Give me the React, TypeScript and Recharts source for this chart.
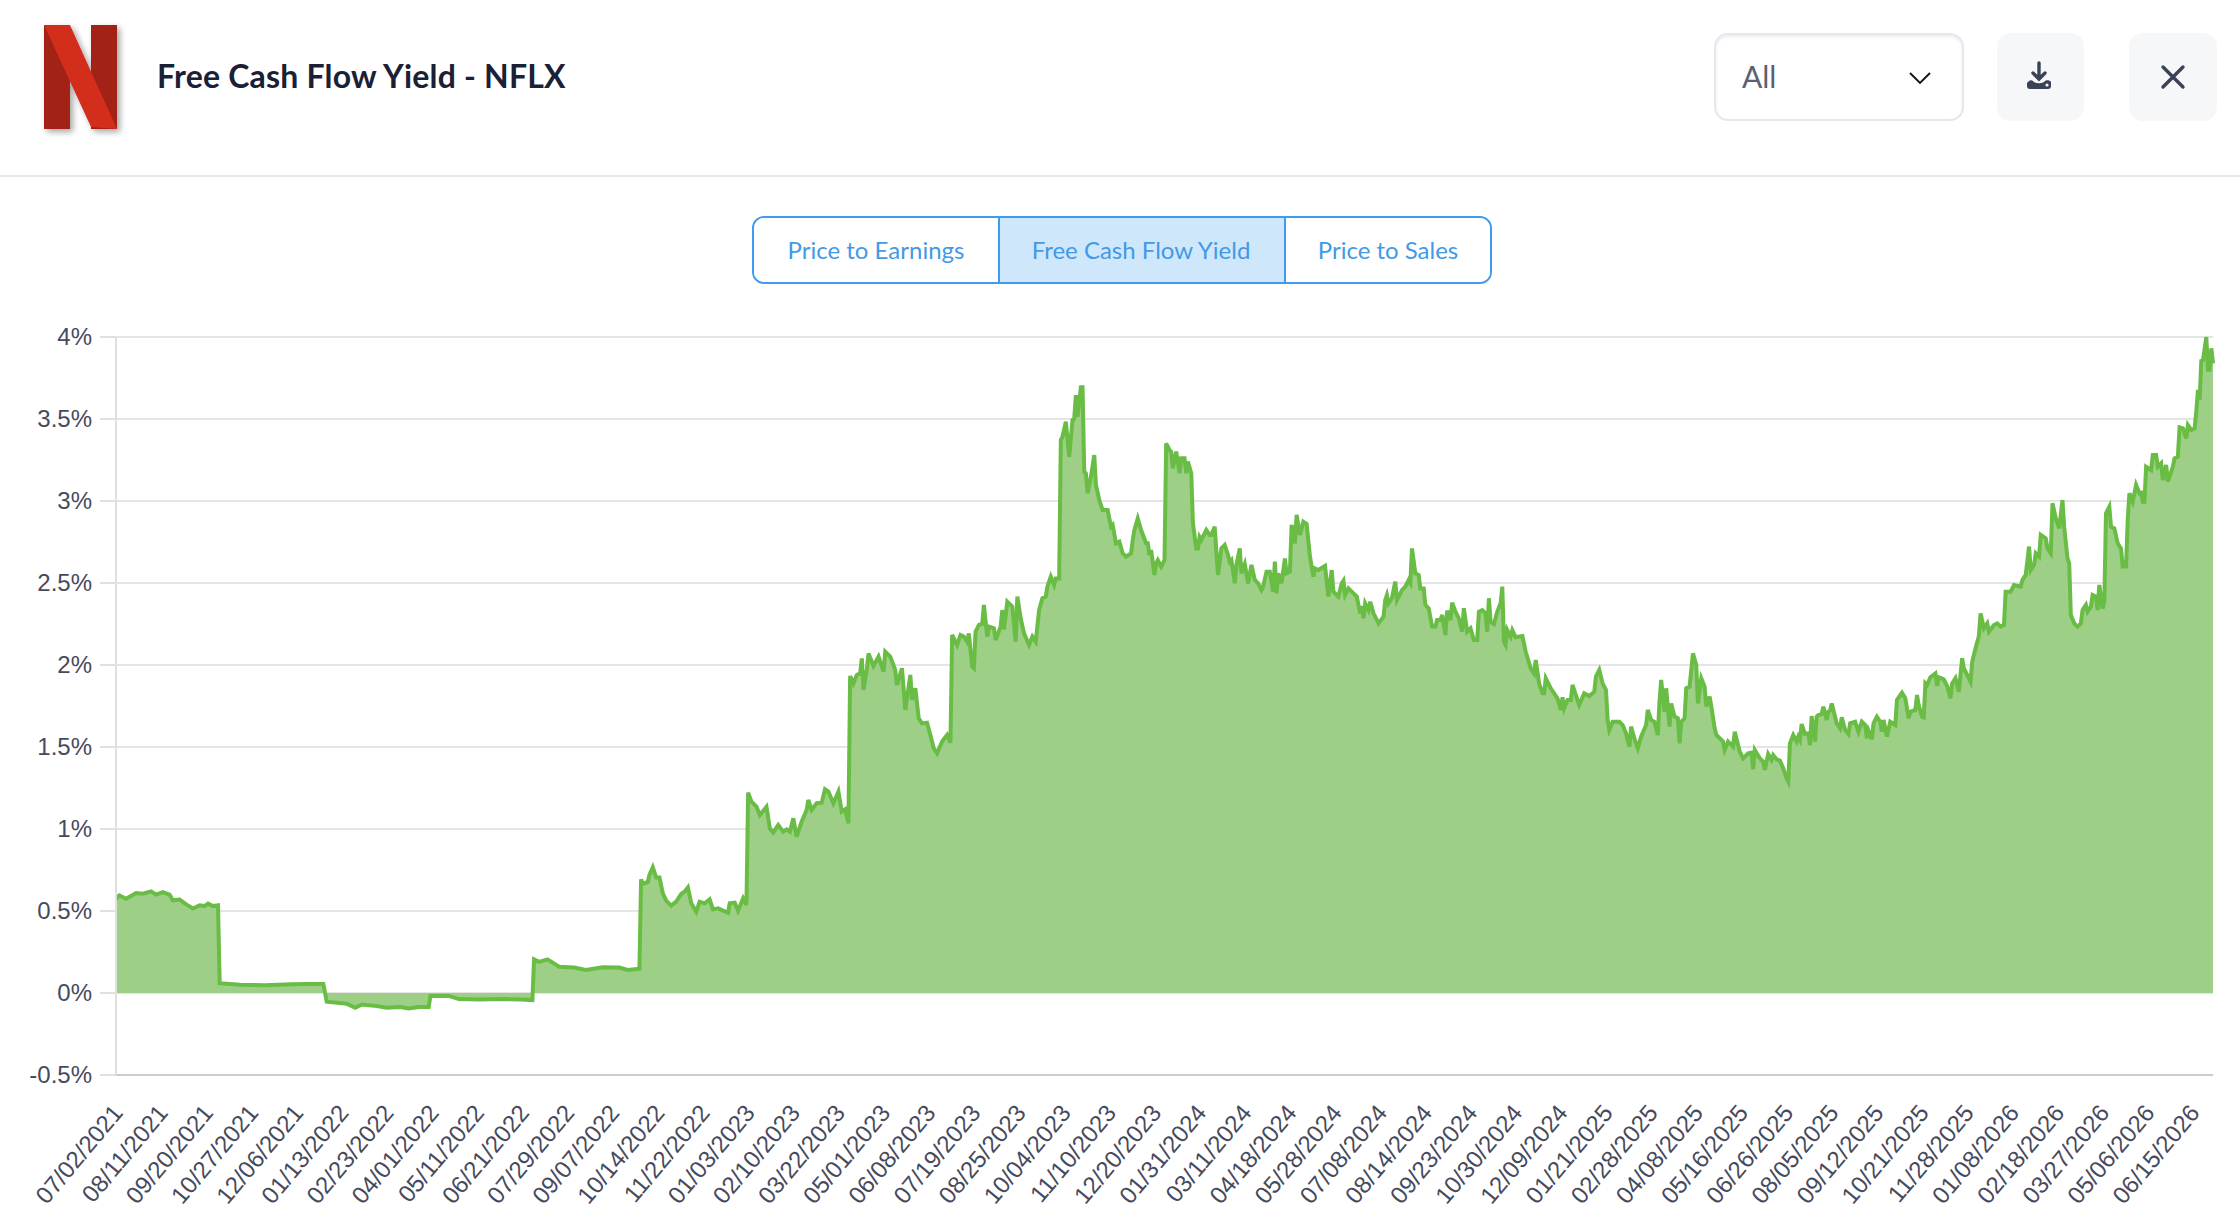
import { AreaChart, Area, XAxis, YAxis, CartesianGrid } from "recharts"

// x tick labels, one every 27 trading days
const dateLabels = [
  "07/02/2021", "08/11/2021", "09/20/2021", "10/27/2021", "12/06/2021",
  "01/13/2022", "02/23/2022", "04/01/2022", "05/11/2022", "06/21/2022", "07/29/2022", "09/07/2022", "10/14/2022", "11/22/2022",
  "01/03/2023", "02/10/2023", "03/22/2023", "05/01/2023", "06/08/2023", "07/19/2023", "08/25/2023", "10/04/2023", "11/10/2023", "12/20/2023",
  "01/31/2024", "03/11/2024", "04/18/2024", "05/28/2024", "07/08/2024", "08/14/2024", "09/23/2024", "10/30/2024", "12/09/2024",
  "01/21/2025", "02/28/2025", "04/08/2025", "05/16/2025", "06/26/2025", "08/05/2025", "09/12/2025", "10/21/2025", "11/28/2025",
  "01/08/2026", "02/18/2026", "03/27/2026", "05/06/2026", "06/15/2026",
]
const daysPerLabel = 27
const lastDay = 1254
const yTicks = [-0.5, 0, 0.5, 1, 1.5, 2, 2.5, 3, 3.5, 4]
const tabs = ["Price to Earnings", "Free Cash Flow Yield", "Price to Sales"]

// [trading day since 07/02/2021, yield %]
const yield2021: number[][] = [
  [0, 0.575], [2, 0.595], [6, 0.575], [12, 0.61], [16, 0.605], [21, 0.62], [24, 0.6], [28, 0.615], [32, 0.6], [34, 0.565],
  [38, 0.57], [42, 0.54], [46, 0.515], [50, 0.535], [53, 0.53], [55, 0.545], [58, 0.53], [61, 0.535], [62, 0.06], [74, 0.05],
  [89, 0.047], [105, 0.053], [114, 0.055], [124, 0.055],
]
const yield2022: number[][] = [
  [126, -0.053], [138, -0.065], [143, -0.09], [147, -0.07], [156, -0.08], [162, -0.09], [170, -0.085], [175, -0.095], [181, -0.085],
  [187, -0.085], [188, -0.018], [199, -0.018], [205, -0.037], [217, -0.04], [233, -0.037], [242, -0.04], [249, -0.043], [250, 0.205],
  [253, 0.19], [258, 0.205], [265, 0.16], [274, 0.155], [281, 0.14], [291, 0.157], [301, 0.155], [306, 0.14], [313, 0.148], [314, 0.693],
  [315, 0.665], [318, 0.677], [319, 0.72], [321, 0.766], [323, 0.705], [325, 0.705], [327, 0.608], [329, 0.563], [332, 0.533], [335, 0.557],
  [338, 0.604], [340, 0.618], [342, 0.644], [344, 0.547], [347, 0.496], [349, 0.557], [352, 0.547], [355, 0.571], [357, 0.51], [360, 0.516],
  [363, 0.502], [366, 0.49], [367, 0.547], [370, 0.551], [372, 0.502], [375, 0.577], [377, 0.537],
]
const yield2023: number[][] = [
  [378, 1.222], [380, 1.167], [383, 1.136], [385, 1.085], [389, 1.136], [391, 1.004], [393, 0.978], [396, 1.024], [399, 0.984], [401, 0.998],
  [403, 0.984], [405, 1.065], [407, 0.953], [410, 1.045], [413, 1.116], [414, 1.177], [416, 1.116], [419, 1.157], [422, 1.16], [424, 1.242],
  [426, 1.228], [429, 1.157], [432, 1.228], [434, 1.106], [436, 1.12], [438, 1.035], [439, 1.933], [441, 1.888], [443, 1.939], [445, 1.949],
  [446, 2.04], [447, 1.848], [449, 1.974], [450, 2.07], [452, 2.02], [453, 1.994], [456, 2.051], [459, 1.959], [460, 2.081], [463, 2.051],
  [466, 1.97], [467, 1.878], [470, 1.98], [472, 1.726], [475, 1.939], [476, 1.787], [478, 1.858], [480, 1.675], [482, 1.644], [485, 1.648],
  [487, 1.573], [489, 1.492], [491, 1.461], [494, 1.533], [497, 1.573], [499, 1.526], [500, 2.183], [503, 2.122], [505, 2.183], [507, 2.173],
  [509, 2.142], [510, 2.193], [512, 1.99], [513, 1.98], [514, 2.203], [516, 2.244], [518, 2.25], [519, 2.366], [521, 2.173], [522, 2.234],
  [525, 2.224], [526, 2.152], [529, 2.234], [530, 2.335], [531, 2.217], [533, 2.386], [536, 2.356], [538, 2.142], [539, 2.417], [541, 2.285],
  [543, 2.193], [546, 2.122], [548, 2.173], [550, 2.142], [552, 2.335], [554, 2.407], [556, 2.417], [557, 2.478], [559, 2.539], [561, 2.488],
  [562, 2.528], [564, 2.528], [565, 3.372], [566, 3.392], [568, 3.484], [570, 3.27], [572, 3.494], [573, 3.5], [574, 3.646], [575, 3.514],
  [577, 3.693], [578, 3.693], [579, 3.179], [580, 3.169], [581, 3.047], [583, 3.148], [585, 3.28], [586, 3.098], [588, 3.006], [590, 2.945],
  [593, 2.945], [595, 2.843], [596, 2.854], [598, 2.742], [600, 2.752], [602, 2.681], [604, 2.66], [607, 2.681], [608, 2.762], [609, 2.823],
  [611, 2.894], [613, 2.823], [616, 2.742], [617, 2.742], [618, 2.671], [619, 2.701], [621, 2.549], [622, 2.62], [623, 2.64], [625, 2.6],
  [627, 2.64],
]
const yield2024: number[][] = [
  [628, 3.352], [630, 3.311], [631, 3.3], [632, 3.199], [634, 3.301], [636, 3.169], [637, 3.26], [639, 3.26], [640, 3.169], [641, 3.24],
  [643, 3.169], [644, 2.864], [646, 2.711], [647, 2.711], [648, 2.78], [649, 2.762], [652, 2.823], [654, 2.793], [655, 2.793], [657, 2.843],
  [659, 2.549], [661, 2.711], [663, 2.732], [665, 2.671], [666, 2.63], [667, 2.64], [669, 2.498], [670, 2.61], [672, 2.711], [673, 2.559],
  [675, 2.616], [677, 2.498], [679, 2.61], [681, 2.518], [683, 2.498], [685, 2.457], [686, 2.478], [688, 2.569], [690, 2.569], [692, 2.447],
  [693, 2.63], [694, 2.437], [695, 2.559], [697, 2.498], [699, 2.65], [700, 2.559], [702, 2.569], [703, 2.854], [705, 2.742], [706, 2.915],
  [708, 2.793], [710, 2.874], [712, 2.86], [714, 2.661], [716, 2.539], [717, 2.589], [719, 2.579], [723, 2.604], [725, 2.417], [727, 2.579],
  [728, 2.447], [731, 2.417], [733, 2.498], [734, 2.514], [735, 2.427], [737, 2.467], [740, 2.437], [742, 2.417], [744, 2.315], [745, 2.36],
  [746, 2.285], [747, 2.376], [749, 2.335], [750, 2.386], [752, 2.315], [755, 2.254], [758, 2.295], [759, 2.396], [760, 2.427], [761, 2.376],
  [763, 2.407], [765, 2.508], [766, 2.396], [769, 2.457], [771, 2.478], [773, 2.518], [774, 2.5], [775, 2.711], [777, 2.559], [779, 2.549],
  [780, 2.467], [782, 2.467], [783, 2.366], [785, 2.345], [787, 2.234], [789, 2.234], [790, 2.274], [792, 2.274], [793, 2.305], [795, 2.183],
  [796, 2.331], [798, 2.274], [799, 2.38], [801, 2.325], [803, 2.284], [805, 2.203], [806, 2.346], [808, 2.203], [810, 2.224], [812, 2.152],
  [814, 2.152], [815, 2.325], [817, 2.335], [819, 2.315], [820, 2.203], [821, 2.407], [822, 2.264], [824, 2.25], [826, 2.325], [828, 2.376],
  [829, 2.478], [830, 2.142], [831, 2.122], [832, 2.213], [834, 2.173], [835, 2.213], [837, 2.169], [841, 2.177], [843, 2.081], [846, 1.98],
  [848, 1.949], [849, 2.03], [851, 1.888], [853, 1.827], [854, 1.827], [855, 1.919], [858, 1.858], [862, 1.797], [864, 1.726], [865, 1.803],
  [866, 1.736], [868, 1.787], [870, 1.787], [871, 1.878], [873, 1.817], [875, 1.756],
]
const yield2025: number[][] = [
  [878, 1.827], [881, 1.811], [884, 1.837], [885, 1.929], [887, 1.97], [889, 1.888], [891, 1.848], [892, 1.665], [893, 1.604], [895, 1.654],
  [899, 1.654], [901, 1.634], [903, 1.583], [905, 1.502], [906, 1.624], [908, 1.553], [910, 1.492], [912, 1.563], [915, 1.634], [916, 1.726],
  [918, 1.665], [920, 1.654], [922, 1.573], [923, 1.776], [924, 1.909], [926, 1.715], [927, 1.858], [929, 1.624], [930, 1.766], [932, 1.685],
  [934, 1.675], [935, 1.522], [936, 1.654], [938, 1.675], [939, 1.858], [941, 1.868], [943, 2.071], [945, 2.0], [946, 1.766], [948, 1.919],
  [950, 1.868], [951, 1.746], [953, 1.807], [954, 1.746], [956, 1.614], [957, 1.573], [961, 1.533], [962, 1.482], [964, 1.533], [967, 1.502],
  [968, 1.593], [971, 1.472], [973, 1.431], [976, 1.461], [978, 1.465], [979, 1.364], [980, 1.482], [983, 1.431], [985, 1.411], [986, 1.36],
  [988, 1.457], [990, 1.421], [991, 1.451], [993, 1.425], [995, 1.417], [997, 1.37], [999, 1.309], [1000, 1.289], [1001, 1.522], [1003, 1.573],
  [1005, 1.533], [1006, 1.563], [1007, 1.543], [1008, 1.64], [1010, 1.579], [1012, 1.583], [1013, 1.512], [1014, 1.689], [1016, 1.533], [1017, 1.685],
  [1018, 1.695], [1020, 1.7], [1021, 1.746], [1023, 1.665], [1024, 1.715], [1025, 1.722], [1026, 1.766], [1029, 1.644], [1031, 1.614], [1032, 1.681],
  [1034, 1.604], [1036, 1.579], [1037, 1.644], [1040, 1.654], [1042, 1.593], [1044, 1.654], [1046, 1.634], [1047, 1.553], [1048, 1.6], [1050, 1.547],
  [1051, 1.644], [1053, 1.685], [1055, 1.654], [1056, 1.593], [1057, 1.665], [1059, 1.563], [1061, 1.654], [1064, 1.634], [1065, 1.787], [1068, 1.831],
  [1070, 1.797], [1072, 1.675], [1073, 1.715], [1076, 1.726], [1077, 1.817], [1078, 1.756], [1080, 1.685], [1081, 1.681], [1082, 1.888], [1083, 1.878],
  [1085, 1.925], [1088, 1.949], [1089, 1.872], [1090, 1.925], [1093, 1.913], [1095, 1.872], [1097, 1.797], [1098, 1.888], [1100, 1.919], [1102, 1.837],
  [1104, 2.041], [1105, 1.98], [1107, 1.94], [1109, 1.898], [1110, 2.02], [1112, 2.102],
]
const yield2026: number[][] = [
  [1114, 2.177], [1115, 2.315], [1117, 2.224], [1119, 2.254], [1120, 2.203], [1123, 2.244], [1125, 2.254], [1127, 2.234], [1129, 2.244], [1130, 2.447],
  [1133, 2.447], [1135, 2.488], [1139, 2.478], [1140, 2.518], [1142, 2.549], [1144, 2.722], [1145, 2.579], [1147, 2.61], [1148, 2.681], [1150, 2.661],
  [1151, 2.793], [1154, 2.772], [1155, 2.711], [1157, 2.681], [1158, 2.986], [1160, 2.894], [1162, 2.833], [1164, 3.006], [1165, 2.843], [1167, 2.65],
  [1168, 2.62], [1169, 2.305], [1171, 2.254], [1173, 2.234], [1175, 2.254], [1176, 2.335], [1178, 2.366], [1179, 2.325], [1181, 2.356], [1182, 2.427],
  [1184, 2.417], [1185, 2.335], [1186, 2.488], [1188, 2.345], [1189, 2.386], [1190, 2.925], [1192, 2.965], [1193, 2.843], [1195, 2.833], [1197, 2.742],
  [1199, 2.711], [1200, 2.6], [1202, 2.6], [1203, 2.884], [1204, 3.047], [1206, 2.996], [1208, 3.098], [1210, 3.047], [1211, 3.05], [1212, 2.996],
  [1213, 2.996], [1214, 3.209], [1217, 3.189], [1218, 3.28], [1220, 3.28], [1221, 3.209], [1223, 3.23], [1224, 3.128], [1226, 3.22], [1227, 3.118],
  [1230, 3.209], [1231, 3.26], [1233, 3.27], [1234, 3.449], [1236, 3.443], [1238, 3.382], [1239, 3.463], [1241, 3.433], [1243, 3.443], [1244, 3.545],
  [1245, 3.677], [1246, 3.616], [1247, 3.854], [1248, 3.858], [1250, 4], [1251, 3.8], [1252, 3.8], [1253, 3.931], [1254, 3.839],
]

const chartData = [...yield2021, ...yield2022, ...yield2023, ...yield2024, ...yield2025, ...yield2026].map(([day, value]) => ({ day, value }))
const xTicks = dateLabels.map((_, i) => i * daysPerLabel)

const lato = "Lato, sans-serif"
const axisFont = "'Liberation Sans', sans-serif"
const axisColor = "#474a5c"

function DateTick({ x, y, payload }: any) {
  return (
    <text
      transform={`translate(${x + 1.5},${y + 25}) rotate(-50)`}
      textAnchor="end"
      dominantBaseline="central"
      fontFamily={axisFont}
      fontSize={24}
      fill={axisColor}
    >
      {dateLabels[payload.value / daysPerLabel]}
    </text>
  )
}

function PercentTick({ x, y, payload }: any) {
  return (
    <text x={x} y={y - 1} textAnchor="end" dominantBaseline="central" fontFamily={axisFont} fontSize={24} fill={axisColor}>
      {`${payload.value}%`}
    </text>
  )
}

function Logo() {
  return (
    <svg width="100" height="130" style={{ position: "absolute", left: 34, top: 15 }}>
      <defs>
        <filter id="logoShadow" x="-20%" y="-20%" width="140%" height="140%">
          <feDropShadow dx="3" dy="3" stdDeviation="3" floodColor="#000" floodOpacity="0.35" />
        </filter>
      </defs>
      <g filter="url(#logoShadow)">
        <rect x="10" y="10" width="26" height="104" fill="#a32013" />
        <rect x="57" y="10" width="26" height="104" fill="#a32013" />
        <polygon points="10,10 36,10 83,114 57,112" fill="#d32e1f" />
      </g>
    </svg>
  )
}

function Header() {
  return (
    <>
      <Logo />
      <div style={{ position: "absolute", left: 157, top: 56, fontFamily: lato, fontWeight: 700, fontSize: 32, letterSpacing: 0.2, lineHeight: "40px", color: "#1a2036", whiteSpace: "nowrap" }}>
        Free Cash Flow Yield - NFLX
      </div>
      <div style={{ position: "absolute", left: 0, top: 175, width: 2240, height: 2, background: "#e9e9ed" }} />
      <div style={{ position: "absolute", left: 1714, top: 33, width: 246, height: 84, border: "2px solid #e6e6ee", borderRadius: 14, boxShadow: "inset 0 2px 3px #ececf2" }}>
        <div style={{ position: "absolute", left: 26, top: 22, fontFamily: lato, fontSize: 30, lineHeight: "38px", color: "#5c5f74" }}>All</div>
        <svg width="24" height="14" style={{ position: "absolute", left: 192, top: 36 }}>
          <path d="M2 2 L12 12 L22 2" fill="none" stroke="#111" strokeWidth="1.8" />
        </svg>
      </div>
      <div style={{ position: "absolute", left: 1997, top: 33, width: 87, height: 88, borderRadius: 14, background: "#f6f7f9" }}>
        <svg width="30" height="30" style={{ position: "absolute", left: 28, top: 28 }}>
          <path d="M14 2 L14 17 M8 12 L14 18 L20 12" fill="none" stroke="#3a4256" strokeWidth="3.4" strokeLinecap="round" />
          <path d="M4 20 C5 19 7 19 8 20 C10 23 18 23 20 20 C21 19 25 19 26 21 L26 25 C26 27 25 28 23 28 L5 28 C3 28 2 27 2 25 L2 22 Z" fill="#3a4256" />
          <circle cx="22" cy="24" r="1.6" fill="#f6f7f9" />
        </svg>
      </div>
      <div style={{ position: "absolute", left: 2129, top: 33, width: 88, height: 88, borderRadius: 14, background: "#f6f7f9" }}>
        <svg width="26" height="26" style={{ position: "absolute", left: 31, top: 31 }}>
          <path d="M3 3 L23 23 M23 3 L3 23" fill="none" stroke="#3a4256" strokeWidth="3.4" strokeLinecap="round" />
        </svg>
      </div>
      <div style={{ position: "absolute", left: 752, top: 216, width: 740, height: 68, boxSizing: "border-box", display: "flex", border: "2px solid #3f9bf0", borderRadius: 12, overflow: "hidden" }}>
        {tabs.map((tab, i) => (
          <div
            key={tab}
            style={{
              width: [244, 286, 206][i],
              display: "flex",
              alignItems: "center",
              justifyContent: "center",
              paddingBottom: 2,
              paddingRight: i === 1 ? 2 : 0,
              fontFamily: lato,
              fontSize: 24,
              color: "#4299e6",
              background: i === 1 ? "#cfe7fb" : "#fff",
              borderLeft: i > 0 ? "2px solid #3f9bf0" : "none",
              boxSizing: "border-box",
            }}
          >
            {tab}
          </div>
        ))}
      </div>
    </>
  )
}

export default function App() {
  return (
    <div style={{ position: "absolute", left: 0, top: 0, width: 2240, height: 1222, background: "#fff", overflow: "hidden" }}>
      <Header />
      <div style={{ position: "absolute", left: 0, top: 300 }}>
        <AreaChart width={2240} height={922} data={chartData} margin={{ top: 37, right: 27, left: 0, bottom: 0 }}>
          <CartesianGrid vertical={false} stroke="#e5e5e5" strokeWidth={2} />
          <XAxis
            dataKey="day"
            type="number"
            domain={[0, lastDay]}
            ticks={xTicks}
            interval={0}
            height={147}
            tickLine={false}
            axisLine={{ stroke: "#cccccc", strokeWidth: 2 }}
            tick={DateTick}
          />
          <YAxis
            type="number"
            domain={[-0.5, 4]}
            ticks={yTicks}
            interval={0}
            width={116}
            tickSize={16}
            tickMargin={8}
            tickLine={{ stroke: "#e0e0e0", strokeWidth: 2 }}
            axisLine={{ stroke: "#e0e0e0", strokeWidth: 2 }}
            tick={PercentTick}
          />
          <Area
            type="linear"
            dataKey="value"
            stroke="#69bd45"
            strokeWidth={4}
            fill="#9dcf86"
            fillOpacity={1}
            dot={false}
            activeDot={false}
            isAnimationActive={false}
          />
        </AreaChart>
      </div>
    </div>
  )
}
